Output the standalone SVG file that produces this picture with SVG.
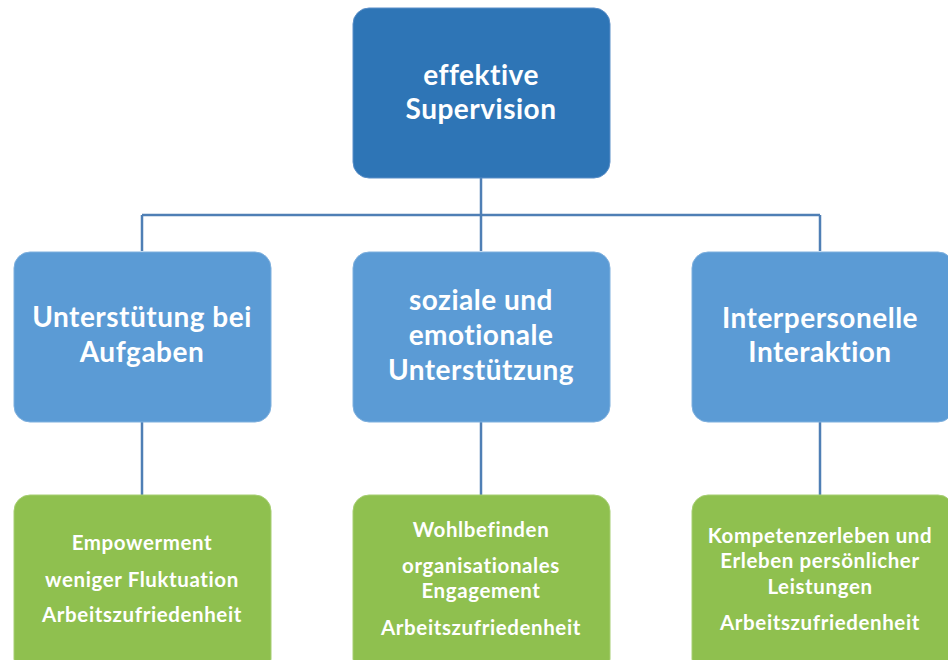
<svg xmlns="http://www.w3.org/2000/svg" width="948" height="660" viewBox="0 0 948 660">
<style>
.top{fill:#2E75B6;stroke:#5B8FC8;stroke-width:1}
.mid{fill:#5B9BD5;stroke:#7FB0DE;stroke-width:1}
.res{fill:#8FC04F;stroke:#A6CE72;stroke-width:1}
.conn{stroke:#4F7FB5;stroke-width:2.5;fill:none}
text{font-family:Lato,"Liberation Sans",sans-serif;font-weight:bold;fill:#fff;text-anchor:middle}
.big{font-size:28px;letter-spacing:0.5px}
.small{font-size:20.5px;letter-spacing:0.6px}
</style>
<rect width="948" height="660" fill="#fff"/>
<g id="connectors">
<path class="conn" d="M481 178V251M142 215H820M142 215V251M820 215V251M142 422V495M481 422V495M820 422V495"/>
</g>
<g id="node-top">
<rect class="top" x="353" y="8" width="257" height="170" rx="16"/>
<text class="big" x="481" y="85">effektive</text>
<text class="big" x="481" y="119">Supervision</text>
</g>
<g id="node-aufgaben">
<rect class="mid" x="14" y="252" width="257" height="170" rx="16"/>
<text class="big" x="142" y="327">Unterstütung bei</text>
<text class="big" x="142" y="362">Aufgaben</text>
</g>
<g id="node-sozial">
<rect class="mid" x="353" y="252" width="257" height="170" rx="16"/>
<text class="big" x="481" y="310">soziale und</text>
<text class="big" x="481" y="345">emotionale</text>
<text class="big" x="481" y="380">Unterstützung</text>
</g>
<g id="node-interaktion">
<rect class="mid" x="692" y="252" width="262" height="170" rx="16"/>
<text class="big" x="820" y="328">Interpersonelle</text>
<text class="big" x="820" y="362">Interaktion</text>
</g>
<g id="node-res-left">
<rect class="res" x="14" y="495" width="257" height="180" rx="16"/>
<text class="small" x="142" y="550">Empowerment</text>
<text class="small" x="142" y="587">weniger Fluktuation</text>
<text class="small" x="142" y="622">Arbeitszufriedenheit</text>
</g>
<g id="node-res-mid">
<rect class="res" x="353" y="495" width="257" height="180" rx="16"/>
<text class="small" x="481" y="537">Wohlbefinden</text>
<text class="small" x="481" y="573">organisationales</text>
<text class="small" x="481" y="598">Engagement</text>
<text class="small" x="481" y="635">Arbeitszufriedenheit</text>
</g>
<g id="node-res-right">
<rect class="res" x="692" y="495" width="262" height="180" rx="16"/>
<text class="small" x="820" y="543">Kompetenzerleben und</text>
<text class="small" x="820" y="568">Erleben persönlicher</text>
<text class="small" x="820" y="594">Leistungen</text>
<text class="small" x="820" y="630">Arbeitszufriedenheit</text>
</g>
</svg>
